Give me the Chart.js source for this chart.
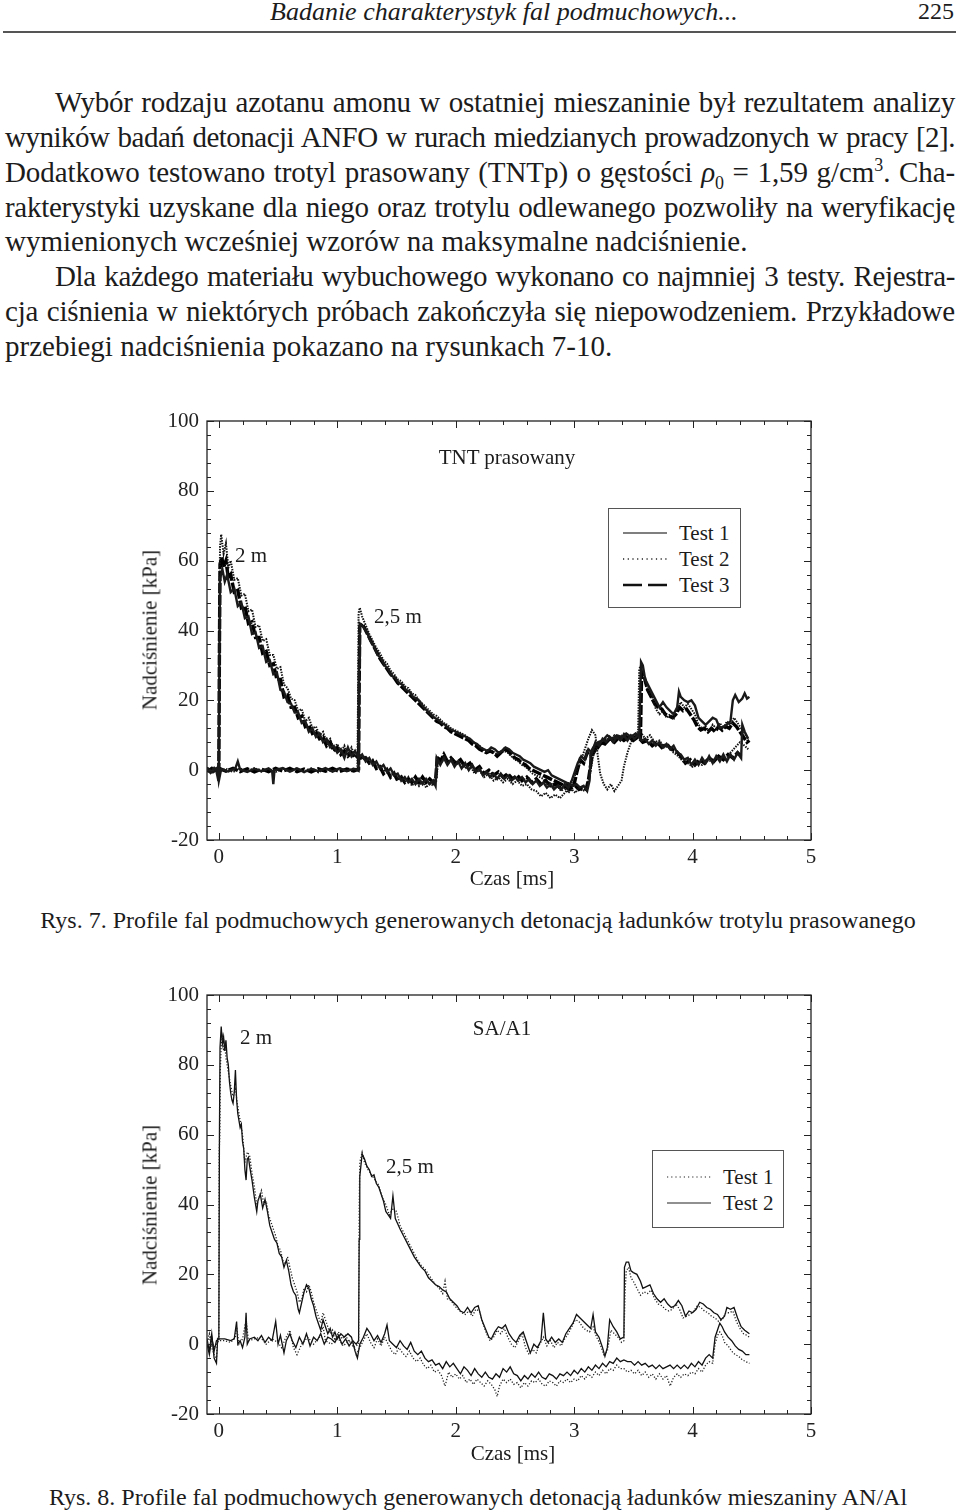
<!DOCTYPE html>
<html lang="pl">
<head>
<meta charset="utf-8">
<title>Badanie charakterystyk fal podmuchowych</title>
<script src="https://cdn.jsdelivr.net/npm/chart.js@4.4.1/dist/chart.umd.min.js"></script>
<style>
  html, body { margin:0; padding:0; background:#fff; }
  body { width:960px; height:1512px; position:relative; overflow:hidden;
         font-family:"Liberation Serif", "DejaVu Serif", serif; color:#1c1c1c; }
  .abs { position:absolute; white-space:nowrap; }
  .c { transform:translate(-50%,-50%); }
  .v { transform:translate(-50%,-50%) rotate(-90deg); }
  #head { left:270px; top:-3px; font-size:26px; font-style:italic; }
  #pageno { left:918px; top:-2px; font-size:24px; }
  #rule { position:absolute; left:3px; top:31px; width:953px; height:2px; background:#555; }
  #text { position:absolute; left:5px; top:85px; width:950px; font-size:29px; line-height:34.86px; }
  #text div { white-space:nowrap; }
  #text .ind { text-indent:50px; }
  sub, sup { font-size:0.62em; line-height:0; }
  canvas { position:absolute; left:0; }
  .lbl { font-size:21px; }
  .cap { font-size:24px; }
  .legend { position:absolute; border:1px solid #555; background:#fff; }
  .legend .row { position:absolute; left:14px; height:26px; display:flex; align-items:center; font-size:21px; }
  .legend svg { margin-right:12px; }
</style>
</head>
<body>

<div id="head" class="abs">Badanie charakterystyk fal podmuchowych...</div>
<div id="pageno" class="abs">225</div>
<div id="rule"></div>

<div id="text">
<div class="j ind"><span>Wybór rodzaju azotanu amonu w ostatniej mieszaninie był rezultatem analizy</span></div>
<div class="j"><span>wyników badań detonacji ANFO w rurach miedzianych prowadzonych w pracy [2].</span></div>
<div class="j"><span>Dodatkowo testowano trotyl prasowany (TNTp) o gęstości <i>ρ</i><sub>0</sub> = 1,59 g/cm<sup>3</sup>. Cha-</span></div>
<div class="j"><span>rakterystyki uzyskane dla niego oraz trotylu odlewanego pozwoliły na weryfikację</span></div>
<div><span>wymienionych wcześniej wzorów na maksymalne nadciśnienie.</span></div>
<div class="j ind"><span>Dla każdego materiału wybuchowego wykonano co najmniej 3 testy. Rejestra-</span></div>
<div class="j"><span>cja ciśnienia w niektórych próbach zakończyła się niepowodzeniem. Przykładowe</span></div>
<div><span>przebiegi nadciśnienia pokazano na rysunkach 7-10.</span></div>
</div>

<!-- Rys. 7 -->
<canvas id="chartTnt" width="960" height="500" style="top:400px"></canvas>
<div class="abs c lbl" style="left:507px; top:457px">TNT prasowany</div>
<div class="abs c lbl" style="left:251px; top:555px">2 m</div>
<div class="abs c lbl" style="left:398px; top:616px">2,5 m</div>
<div class="abs v lbl" style="left:150px; top:630px">Nadciśnienie [kPa]</div>
<div class="abs c lbl" style="left:512px; top:878px">Czas [ms]</div>
<div class="legend" style="left:608px; top:508px; width:131px; height:98px">
  <div class="row" style="top:11px"><svg width="44" height="6"><line x1="0" y1="3" x2="44" y2="3" stroke="#555" stroke-width="1.3"/></svg>Test 1</div>
  <div class="row" style="top:37px"><svg width="44" height="6"><line x1="0" y1="3" x2="44" y2="3" stroke="#222" stroke-width="1.3" stroke-dasharray="1.2 3.5"/></svg>Test 2</div>
  <div class="row" style="top:63px"><svg width="44" height="6"><line x1="0" y1="3" x2="44" y2="3" stroke="#111" stroke-width="2.5" stroke-dasharray="19 6"/></svg>Test 3</div>
</div>
<div class="abs c cap" style="left:478px; top:920px">Rys. 7. Profile fal podmuchowych generowanych detonacją ładunków trotylu prasowanego</div>

<!-- Rys. 8 -->
<canvas id="chartSa" width="960" height="500" style="top:974px"></canvas>
<div class="abs c lbl" style="left:502px; top:1028px">SA/A1</div>
<div class="abs c lbl" style="left:256px; top:1037px">2 m</div>
<div class="abs c lbl" style="left:410px; top:1166px">2,5 m</div>
<div class="abs v lbl" style="left:150px; top:1205px">Nadciśnienie [kPa]</div>
<div class="abs c lbl" style="left:513px; top:1453px">Czas [ms]</div>
<div class="legend" style="left:652px; top:1150px; width:130px; height:76px">
  <div class="row" style="top:13px"><svg width="44" height="6"><line x1="0" y1="3" x2="44" y2="3" stroke="#222" stroke-width="1.2" stroke-dasharray="1.2 3"/></svg>Test 1</div>
  <div class="row" style="top:39px"><svg width="44" height="6"><line x1="0" y1="3" x2="44" y2="3" stroke="#222" stroke-width="1.2"/></svg>Test 2</div>
</div>
<div class="abs c cap" style="left:478px; top:1497px">Rys. 8. Profile fal podmuchowych generowanych detonacją ładunków mieszaniny AN/Al</div>

<script>
const timeTicks = [0, 1, 2, 3, 4, 5];
const pressureTicks = [-20, 0, 20, 40, 60, 80, 100];

// Rys. 7 - TNT prasowany, [czas ms, nadcisnienie kPa]
const tnt2mTest1 = [[-0.1,0.3],[-0.07,-0.8],[-0.04,0.6],[-0.02,-0.4],[-0.005,-2.8],[0,0.2],[0.005,33],[0.01,55],[0.03,57.5],[0.05,54],[0.07,56],[0.1,51],[0.13,52],[0.16,47],[0.19,48],[0.22,43.5],[0.25,44],[0.28,39],[0.31,39.5],[0.34,35],[0.37,35.5],[0.4,31],[0.43,31.5],[0.46,27.5],[0.49,28],[0.52,23],[0.55,22.5],[0.58,19.5],[0.61,19],[0.64,16.5],[0.67,16.5],[0.7,13.5],[0.73,14],[0.76,11],[0.79,12],[0.82,9.5],[0.85,10.5],[0.88,8],[0.91,9],[0.94,6.5],[0.97,7],[1.0,5],[1.03,6],[1.06,3.5],[1.09,6.5],[1.12,4],[1.15,5.5],[1.18,3.5],[1.21,4.5],[1.24,2.5],[1.27,3.5],[1.3,1.5],[1.33,2.5],[1.36,0.5],[1.39,1.5],[1.42,-0.5],[1.45,0.5],[1.48,-1.5],[1.51,-1],[1.54,-3],[1.57,-2],[1.6,-3.5],[1.63,-2.5],[1.66,-4],[1.69,-2.5],[1.72,-4],[1.75,-2.5],[1.78,-4],[1.81,-3],[1.83,-4.5],[1.84,3.5],[1.87,1.5],[1.9,3.5],[1.93,1.5],[1.96,3],[1.99,1],[2.02,2.5],[2.05,0.5],[2.08,2],[2.11,0],[2.14,1.5],[2.17,-0.5],[2.2,0.5],[2.23,-1.5],[2.26,-0.5],[2.29,-2],[2.32,-1],[2.35,-2.5],[2.38,-1],[2.41,-2.5],[2.44,-1.5],[2.47,-3],[2.5,-2],[2.53,-3],[2.56,-2],[2.59,-3.5],[2.62,-2.5],[2.65,-4],[2.68,-3],[2.71,-4.5],[2.74,-3.5],[2.77,-5],[2.8,-4],[2.83,-5.5],[2.86,-4.5],[2.89,-5.5],[2.92,-4],[2.95,-5],[2.98,-3],[3.0,-1],[3.03,2],[3.06,4],[3.09,3],[3.12,6],[3.15,5],[3.18,8],[3.21,7],[3.24,9],[3.27,8],[3.3,9.5],[3.33,8],[3.36,9.5],[3.39,8.5],[3.42,10],[3.45,8.5],[3.48,10],[3.51,9],[3.54,10],[3.57,8.5],[3.6,9],[3.63,7.5],[3.66,8.5],[3.69,7],[3.72,8],[3.75,6.5],[3.78,7.5],[3.81,6],[3.84,7],[3.87,5],[3.9,4.5],[3.93,3],[3.96,3.5],[3.99,1.5],[4.02,3],[4.05,1.5],[4.08,3.5],[4.11,2],[4.14,4],[4.17,2],[4.2,4],[4.23,2.5],[4.26,4.5],[4.29,2.5],[4.32,4.5],[4.35,3],[4.38,5],[4.41,3.5],[4.42,13],[4.44,11],[4.47,9]];
const tnt2mTest2 = [[-0.1,0.8],[-0.06,-0.6],[-0.03,0.9],[-0.01,-0.5],[0,0.5],[0.004,40],[0.01,64],[0.02,67.5],[0.04,62],[0.06,65],[0.08,58],[0.1,60],[0.13,54.5],[0.16,55],[0.19,50],[0.22,50.5],[0.25,45.5],[0.28,46],[0.31,41],[0.34,41.5],[0.37,37],[0.4,37.5],[0.43,33],[0.46,33],[0.49,29],[0.52,29.5],[0.55,24.5],[0.58,23.5],[0.61,20.5],[0.64,20],[0.67,17],[0.7,17.5],[0.73,14],[0.76,15],[0.79,12],[0.82,12.5],[0.85,10],[0.88,11],[0.91,8],[0.94,9],[0.97,6],[1.0,7.5],[1.03,5],[1.06,7],[1.09,4.5],[1.12,6.5],[1.15,4],[1.18,5],[1.21,3],[1.24,4],[1.27,2],[1.3,3],[1.33,1],[1.36,1.5],[1.39,-0.5],[1.42,0.5],[1.45,-1.5],[1.48,-0.5],[1.51,-2.5],[1.54,-1.5],[1.57,-3.5],[1.6,-2],[1.63,-4.5],[1.66,-3],[1.69,-4.5],[1.72,-3],[1.75,-5],[1.78,-3.5],[1.81,-4.5],[1.84,-2],[1.85,3],[1.88,2],[1.91,4],[1.94,2],[1.97,3.5],[2.0,1.5],[2.04,2.5],[2.08,0.5],[2.12,1.5],[2.16,-1],[2.2,0],[2.24,-2],[2.28,-1],[2.32,-3],[2.36,-2],[2.4,-3.5],[2.44,-2.5],[2.48,-4],[2.52,-3],[2.56,-4.5],[2.6,-4],[2.64,-5.5],[2.68,-6],[2.72,-7.5],[2.76,-6.5],[2.8,-8],[2.84,-7],[2.88,-8],[2.92,-6.5],[2.96,-5],[3.0,-2],[3.04,1],[3.08,5],[3.12,9],[3.15,11.5],[3.18,10],[3.2,4],[3.22,-1],[3.25,-4],[3.28,-5.5],[3.31,-4],[3.34,-6],[3.37,-4.5],[3.4,-3],[3.42,1],[3.45,5],[3.48,8],[3.52,9.5],[3.56,11],[3.6,9],[3.64,10],[3.68,8],[3.72,8.5],[3.76,6.5],[3.8,7],[3.84,5],[3.88,4],[3.92,2.5],[3.96,2],[4.0,1],[4.04,2],[4.08,1.5],[4.12,3],[4.16,2.5],[4.2,3.5],[4.24,4],[4.28,3],[4.32,5],[4.36,6.5],[4.4,8],[4.44,7],[4.47,6]];
const tnt2mTest3 = [[-0.1,-0.4],[-0.06,0.5],[-0.03,-0.6],[0,0.2],[0.005,35],[0.01,59],[0.025,61],[0.04,58],[0.06,60],[0.08,55],[0.1,56],[0.13,51],[0.16,51.5],[0.19,46.5],[0.22,47],[0.25,42],[0.28,42.5],[0.31,38],[0.34,38],[0.37,33.5],[0.4,34],[0.43,30],[0.46,30.5],[0.49,26],[0.52,26],[0.55,21],[0.58,21.5],[0.61,18],[0.64,18],[0.67,15],[0.7,15.5],[0.73,12.5],[0.76,13],[0.79,10.5],[0.82,11],[0.85,9],[0.88,9.5],[0.91,7],[0.94,8],[0.97,5.5],[1.0,6.5],[1.03,4.5],[1.06,5.5],[1.09,4],[1.12,5],[1.15,3.5],[1.18,4.5],[1.21,3],[1.24,3.5],[1.27,2],[1.3,2.5],[1.33,0.5],[1.36,1],[1.39,-1],[1.42,0],[1.45,-2],[1.48,-1],[1.51,-3],[1.54,-2],[1.57,-3.5],[1.6,-2.5],[1.63,-3.5],[1.66,-2],[1.69,-3.5],[1.72,-2],[1.75,-3.5],[1.78,-2.5],[1.81,-3.5],[1.83,-3],[1.845,4],[1.87,2.5],[1.9,4.5],[1.93,2.5],[1.96,3.5],[2.0,2],[2.04,3],[2.08,1],[2.12,2],[2.16,0],[2.2,1],[2.24,-1],[2.28,0],[2.32,-1.5],[2.36,-0.5],[2.4,-2],[2.44,-1],[2.48,-2.5],[2.52,-1.5],[2.56,-3],[2.6,-2],[2.64,-3.5],[2.68,-2.5],[2.72,-4],[2.76,-3],[2.8,-4.5],[2.84,-4],[2.88,-5],[2.92,-4.5],[2.96,-5.5],[3.0,-4],[3.02,-1],[3.05,3],[3.08,2],[3.11,5],[3.14,4],[3.17,7],[3.2,6.5],[3.23,8],[3.26,7.5],[3.3,9],[3.34,8],[3.38,9.5],[3.42,8.5],[3.46,9.5],[3.5,8.5],[3.54,9.5],[3.58,8],[3.62,8.5],[3.66,7],[3.7,8],[3.74,6.5],[3.78,7.5],[3.82,6],[3.86,5.5],[3.9,4],[3.94,2],[3.98,3],[4.02,1.5],[4.06,3],[4.1,2],[4.14,3.5],[4.18,2.5],[4.22,4],[4.26,3],[4.3,4.5],[4.34,3.5],[4.38,5],[4.41,4]];
const tnt25Test1 = [[-0.1,0.5],[-0.05,-0.5],[-0.01,0.8],[0,-3],[0.02,0.3],[0.08,-0.4],[0.14,0.6],[0.16,2.5],[0.18,0.2],[0.24,-0.5],[0.3,0.4],[0.36,-0.3],[0.42,0.5],[0.45,-0.2],[0.46,-4],[0.47,0],[0.54,0.6],[0.6,-0.4],[0.66,0.5],[0.72,-0.6],[0.78,0.4],[0.84,-0.3],[0.9,0.6],[0.96,-0.4],[1.02,0.5],[1.08,-0.3],[1.14,0.4],[1.18,-0.2],[1.185,30],[1.19,42],[1.22,41],[1.25,39.5],[1.28,37],[1.31,35.5],[1.34,33],[1.37,32],[1.4,30],[1.43,29],[1.46,27],[1.49,26.5],[1.52,25],[1.55,24.5],[1.58,23],[1.61,22.5],[1.64,21],[1.67,20.5],[1.7,19.5],[1.73,18],[1.76,17],[1.79,16],[1.82,15],[1.85,14.5],[1.88,13.5],[1.91,13],[1.94,12],[1.97,11.5],[2.0,11],[2.03,10.5],[2.06,10],[2.09,9.5],[2.12,9],[2.15,8],[2.18,7.5],[2.21,6.5],[2.24,6],[2.27,5.5],[2.3,6.5],[2.33,6],[2.36,5],[2.39,5.5],[2.42,6.5],[2.45,6],[2.48,5],[2.51,4.5],[2.54,4],[2.57,3],[2.6,2.5],[2.63,2],[2.66,1],[2.69,0.5],[2.72,0],[2.75,-0.5],[2.78,0],[2.81,-1.5],[2.84,-2],[2.87,-2.5],[2.9,-3],[2.93,-3.5],[2.96,-4],[2.99,-4.5],[3.02,-4],[3.05,-5],[3.08,-4.5],[3.11,-6],[3.13,-3],[3.14,5],[3.17,7],[3.2,8],[3.24,8.5],[3.28,10],[3.32,9],[3.36,10],[3.4,9.5],[3.44,10.5],[3.48,9.5],[3.52,10.5],[3.55,10],[3.565,31],[3.58,30],[3.6,26],[3.63,24],[3.66,22],[3.69,20],[3.72,18],[3.75,19.5],[3.78,18],[3.81,17],[3.84,16],[3.87,18],[3.885,22.5],[3.9,21],[3.93,20],[3.96,19.5],[3.99,20],[4.02,18.5],[4.05,15],[4.08,14],[4.11,13],[4.14,14],[4.17,15],[4.2,14.5],[4.23,12],[4.26,12.5],[4.29,13],[4.32,14],[4.34,20],[4.36,21.5],[4.39,19.5],[4.42,20.5],[4.44,22],[4.46,20.5],[4.48,21]];
const tnt25Test2 = [[-0.1,-0.3],[-0.05,0.6],[0,-0.5],[0.06,0.4],[0.12,-0.5],[0.18,0.5],[0.24,-0.3],[0.3,0.6],[0.36,-0.4],[0.42,0.3],[0.48,-0.5],[0.54,0.5],[0.6,-0.2],[0.66,0.6],[0.72,-0.4],[0.78,0.5],[0.84,-0.6],[0.9,0.4],[0.96,-0.3],[1.02,0.6],[1.08,-0.2],[1.14,0.5],[1.17,0.2],[1.175,20],[1.18,45],[1.19,46.5],[1.21,44],[1.24,41.5],[1.27,39],[1.3,37],[1.33,35],[1.36,33.5],[1.39,31.5],[1.42,30.5],[1.45,28.5],[1.48,27.5],[1.51,26],[1.54,25.5],[1.57,24],[1.6,23.5],[1.63,22],[1.66,21.5],[1.69,20],[1.72,19],[1.75,18],[1.78,17],[1.81,16],[1.84,15.5],[1.87,14.5],[1.9,13.5],[1.93,13],[1.96,12],[1.99,11.5],[2.02,11],[2.05,10.5],[2.08,10],[2.11,9],[2.14,8.5],[2.17,7.5],[2.2,7],[2.23,6],[2.26,5],[2.29,6],[2.32,5],[2.35,4.5],[2.38,5],[2.41,5.5],[2.44,5],[2.47,4],[2.5,3],[2.53,2.5],[2.56,1.5],[2.59,1],[2.62,0],[2.65,-1],[2.68,-1.5],[2.71,-2],[2.74,-2.5],[2.77,-4],[2.8,-3.5],[2.83,-5],[2.86,-4.5],[2.89,-6],[2.92,-5],[2.95,-6.5],[2.98,-5.5],[3.01,-6.5],[3.04,-5],[3.07,-6],[3.1,-5.5],[3.13,-2],[3.16,4],[3.19,7],[3.22,8],[3.26,9],[3.3,8.5],[3.34,10],[3.38,9],[3.42,10.5],[3.46,9.5],[3.5,10],[3.54,11],[3.55,29],[3.57,30.5],[3.6,25],[3.63,22.5],[3.66,21],[3.69,17.5],[3.72,16],[3.75,17],[3.78,15],[3.81,16],[3.84,14.5],[3.87,17],[3.9,19.5],[3.93,18],[3.96,19],[3.99,17.5],[4.02,16],[4.05,13],[4.08,12],[4.11,12.5],[4.14,11],[4.17,13],[4.2,12],[4.23,13.5],[4.26,12],[4.29,14],[4.32,13],[4.35,15],[4.38,13.5],[4.41,12],[4.44,10.5],[4.47,9]];
const tnt25Test3 = [[-0.1,0.4],[-0.05,-0.4],[0,0.6],[0.06,-0.3],[0.12,0.5],[0.18,-0.4],[0.24,0.4],[0.3,-0.5],[0.36,0.3],[0.42,-0.4],[0.48,0.5],[0.54,-0.3],[0.6,0.5],[0.66,-0.4],[0.72,0.3],[0.78,-0.5],[0.84,0.4],[0.9,-0.3],[0.96,0.5],[1.02,-0.4],[1.08,0.3],[1.14,-0.2],[1.18,0.3],[1.185,25],[1.19,41],[1.21,42],[1.24,40],[1.27,38],[1.3,36],[1.33,34],[1.36,32],[1.39,30.5],[1.42,29],[1.45,27.5],[1.48,26.5],[1.51,25],[1.54,24],[1.57,23],[1.6,22],[1.63,21],[1.66,20],[1.69,19],[1.72,18],[1.75,17],[1.78,16],[1.81,15],[1.84,14],[1.87,13.5],[1.9,12.5],[1.93,12],[1.96,11],[1.99,10.5],[2.02,10],[2.05,9.5],[2.08,9],[2.11,8.5],[2.14,7.5],[2.17,7],[2.2,6],[2.23,5.5],[2.26,5],[2.29,5.5],[2.32,5],[2.35,4],[2.38,5],[2.41,6],[2.44,5.5],[2.47,4.5],[2.5,3.5],[2.53,3],[2.56,2],[2.59,1.5],[2.62,0.5],[2.65,0],[2.68,-0.5],[2.71,-1],[2.74,-1.5],[2.77,-2],[2.8,-2.5],[2.83,-3],[2.86,-3.5],[2.89,-4],[2.92,-4.5],[2.95,-4],[2.98,-5],[3.01,-4.5],[3.04,-5.5],[3.07,-5],[3.1,-5.5],[3.12,-3],[3.15,4],[3.18,6],[3.22,7.5],[3.26,8],[3.3,9],[3.34,8.5],[3.38,9.5],[3.42,9],[3.46,10],[3.5,9],[3.54,10],[3.56,9.5],[3.57,28],[3.59,27],[3.62,23],[3.65,21],[3.68,19],[3.71,18],[3.74,17.5],[3.77,16],[3.8,15.5],[3.83,15],[3.86,16],[3.89,18],[3.92,17],[3.95,17.5],[3.98,16],[4.01,14.5],[4.04,12.5],[4.07,11.5],[4.1,12],[4.13,11],[4.16,12],[4.19,11],[4.22,12.5],[4.25,11.5],[4.28,12.5],[4.31,12],[4.34,13.5],[4.37,12.5],[4.4,11],[4.43,9.5],[4.46,8],[4.48,8.5]];

// Rys. 8 - SA/A1
const sa2mTest1 = [[-0.1,0.5],[-0.08,3],[-0.06,-1],[-0.04,-3],[-0.02,-4],[-0.01,2],[0,1],[0.003,55],[0.008,60],[0.012,78],[0.02,86],[0.03,88],[0.04,84],[0.05,86],[0.06,82],[0.08,78],[0.1,74],[0.12,71],[0.14,73],[0.16,68],[0.18,64],[0.2,60],[0.22,52],[0.24,55],[0.26,54],[0.28,49],[0.3,45],[0.32,40],[0.34,42],[0.36,44],[0.38,40],[0.4,41],[0.42,37],[0.44,35],[0.46,33],[0.48,31],[0.5,28],[0.52,27],[0.54,24],[0.56,23],[0.58,25],[0.6,22],[0.62,19],[0.64,17],[0.66,15],[0.68,12],[0.7,13],[0.72,16],[0.74,15],[0.76,17],[0.78,15],[0.8,12],[0.82,10],[0.84,8],[0.86,6],[0.88,9],[0.9,7],[0.92,5],[0.94,3],[0.96,4],[0.98,1],[1.01,3.5],[1.04,1.5],[1.07,2.5],[1.1,0.5],[1.13,1],[1.16,-3],[1.19,-1],[1.22,1],[1.25,3],[1.28,0.5],[1.31,-1],[1.34,1.5],[1.37,-0.5],[1.4,2],[1.43,0],[1.46,-2],[1.49,-3],[1.52,-1],[1.55,-2.5],[1.58,-3.5],[1.61,-2],[1.64,-4],[1.67,-5],[1.7,-4],[1.73,-6],[1.76,-7],[1.79,-6],[1.82,-8],[1.85,-7.5],[1.88,-9],[1.91,-12],[1.94,-8],[1.97,-9.5],[2.0,-8.5],[2.03,-10],[2.06,-9],[2.09,-11],[2.12,-10],[2.15,-11.5],[2.18,-10],[2.21,-11],[2.24,-12],[2.27,-10.5],[2.3,-11.5],[2.33,-13],[2.35,-15],[2.37,-12],[2.4,-10],[2.43,-11],[2.46,-10],[2.49,-11.5],[2.52,-11],[2.55,-12.5],[2.58,-11],[2.61,-12],[2.64,-10.5],[2.67,-11],[2.7,-10],[2.73,-11.5],[2.76,-12],[2.79,-10.5],[2.82,-11],[2.85,-12],[2.88,-10.5],[2.91,-11],[2.94,-10],[2.97,-11],[3.0,-10],[3.03,-10.5],[3.06,-9],[3.09,-10],[3.12,-8.5],[3.15,-9.5],[3.18,-8],[3.21,-9],[3.24,-7.5],[3.27,-8.5],[3.3,-7],[3.33,-7.5],[3.36,-6],[3.39,-7],[3.42,-7],[3.45,-8],[3.48,-7.5],[3.51,-8.5],[3.54,-7.5],[3.57,-9],[3.6,-8],[3.63,-9.5],[3.66,-8.5],[3.69,-10],[3.72,-8.5],[3.75,-10],[3.78,-9],[3.81,-12],[3.84,-9.5],[3.87,-8.5],[3.9,-9.5],[3.93,-8.5],[3.96,-9],[3.99,-8],[4.02,-8.5],[4.05,-7],[4.08,-8],[4.11,-6],[4.14,-5],[4.17,-5.5],[4.19,0],[4.21,2.5],[4.23,3.5],[4.25,2.5],[4.27,0.5],[4.3,-0.5],[4.33,-2],[4.36,-3],[4.39,-3.5],[4.42,-4.5],[4.45,-5],[4.48,-5.5]];
const sa2mTest2 = [[-0.1,1.5],[-0.08,-2],[-0.06,3],[-0.04,-4],[-0.02,-5.5],[-0.01,1.5],[0,1.5],[0.005,60],[0.01,85],[0.02,91],[0.03,86],[0.04,88],[0.05,84],[0.06,87],[0.07,82],[0.08,80],[0.09,75],[0.1,72],[0.11,70],[0.12,69],[0.13,72],[0.14,78.5],[0.15,70],[0.16,66],[0.17,64],[0.18,62],[0.19,63],[0.2,58],[0.21,56],[0.22,50],[0.23,47],[0.24,53],[0.25,53.5],[0.26,51],[0.28,47],[0.3,42],[0.32,38],[0.33,41],[0.35,43],[0.37,39],[0.39,41.5],[0.41,38],[0.43,34],[0.45,32],[0.47,30],[0.49,29],[0.51,26],[0.53,25],[0.55,22],[0.57,24],[0.59,21],[0.61,17],[0.63,15],[0.65,14],[0.67,10],[0.68,9],[0.7,12],[0.72,15],[0.74,17],[0.76,16],[0.78,13],[0.8,11],[0.82,8],[0.84,6],[0.86,4],[0.88,7],[0.9,5],[0.92,3],[0.94,4.5],[0.96,2],[0.98,3.5],[1.0,1.5],[1.03,3],[1.06,2],[1.09,3],[1.12,2],[1.15,-2],[1.17,-4],[1.19,0],[1.22,2],[1.25,4.5],[1.28,3],[1.31,1],[1.34,2.5],[1.37,0.5],[1.4,3],[1.42,5.5],[1.44,1],[1.47,0],[1.5,-1],[1.53,1],[1.56,-0.5],[1.59,-1.5],[1.62,0.5],[1.65,-2],[1.68,-3],[1.71,-2],[1.74,-4],[1.77,-5],[1.8,-4.5],[1.83,-6],[1.86,-5.5],[1.89,-7],[1.92,-5],[1.95,-6.5],[1.98,-5.5],[2.01,-7],[2.04,-8.5],[2.07,-6.5],[2.1,-7.5],[2.13,-9],[2.16,-7],[2.19,-8.5],[2.22,-9.5],[2.25,-8],[2.28,-9.5],[2.31,-10],[2.34,-8.5],[2.37,-9.5],[2.4,-7],[2.43,-8],[2.46,-6.5],[2.49,-8.5],[2.52,-9],[2.55,-10.5],[2.58,-9],[2.61,-10],[2.64,-8.5],[2.67,-9.5],[2.7,-8],[2.73,-9.5],[2.76,-10],[2.79,-8.5],[2.82,-9],[2.85,-10],[2.88,-8.5],[2.91,-9],[2.94,-8],[2.97,-9],[3.0,-7.5],[3.03,-8.5],[3.06,-7],[3.09,-8],[3.12,-6.5],[3.15,-7.5],[3.18,-6],[3.21,-7],[3.24,-5.5],[3.27,-6.5],[3.3,-5],[3.33,-5.5],[3.36,-4],[3.39,-5],[3.42,-4.5],[3.45,-5],[3.48,-5],[3.51,-6],[3.54,-5],[3.57,-6],[3.6,-5.5],[3.63,-6.5],[3.66,-6],[3.69,-7],[3.72,-6],[3.75,-7],[3.78,-6.5],[3.81,-6],[3.84,-7],[3.87,-6],[3.9,-7],[3.93,-6],[3.96,-7],[3.99,-5.5],[4.02,-6.5],[4.05,-5],[4.08,-6],[4.11,-4],[4.14,-3],[4.17,-4],[4.19,2],[4.21,4],[4.23,6],[4.25,5],[4.27,3.5],[4.3,2],[4.33,1],[4.36,-0.5],[4.39,-1.5],[4.42,-2],[4.45,-3],[4.48,-3]];
const sa25Test1 = [[-0.1,0.5],[-0.07,2],[-0.04,-1],[-0.02,0],[0,1],[0.05,1],[0.1,0.5],[0.14,2],[0.15,5],[0.17,0],[0.2,1.5],[0.23,7],[0.25,1],[0.3,1.5],[0.35,2],[0.4,0],[0.45,1.5],[0.5,0.5],[0.53,-1],[0.56,1.5],[0.6,4],[0.63,-1],[0.66,-3],[0.7,0],[0.75,2],[0.8,0],[0.85,2],[0.88,5],[0.9,1],[0.95,0],[1.0,2],[1.05,-0.5],[1.1,1],[1.14,-1],[1.18,0],[1.182,20],[1.185,40],[1.19,52],[1.21,55],[1.23,52],[1.26,50],[1.29,48.5],[1.32,47],[1.35,45.5],[1.38,42],[1.41,40],[1.44,37],[1.47,39],[1.5,38],[1.53,34],[1.56,32],[1.59,30],[1.62,28],[1.65,26],[1.68,24],[1.71,22.5],[1.74,21.5],[1.77,20],[1.8,18.5],[1.83,17],[1.86,16],[1.89,14.5],[1.91,18],[1.93,13],[1.96,12.5],[1.99,11],[2.02,10],[2.05,9],[2.08,8.5],[2.11,9.5],[2.14,8],[2.17,10],[2.2,9.5],[2.23,6],[2.26,3],[2.29,1],[2.32,2],[2.35,4],[2.38,3],[2.41,4.5],[2.44,2],[2.47,0],[2.5,-1],[2.53,1],[2.56,3],[2.59,-1],[2.62,-3],[2.65,-1.5],[2.68,-2.5],[2.71,0],[2.74,2],[2.77,-0.5],[2.8,1],[2.83,-1],[2.86,0.5],[2.89,-0.5],[2.92,1.5],[2.95,3],[2.98,5],[3.01,7],[3.04,6.5],[3.07,5],[3.1,4],[3.13,3.5],[3.16,5],[3.19,2],[3.22,0],[3.25,-3],[3.28,-2],[3.31,4],[3.34,3],[3.37,2],[3.4,0.5],[3.42,1],[3.43,15],[3.44,21],[3.46,22],[3.48,19],[3.5,18],[3.53,16],[3.56,14],[3.59,15],[3.62,14.5],[3.65,15.5],[3.68,13],[3.71,11.5],[3.74,11],[3.77,10],[3.8,9.5],[3.83,10],[3.86,11.5],[3.89,10],[3.92,7.5],[3.95,8],[3.98,8.5],[4.01,9.5],[4.04,11],[4.07,10.5],[4.1,9.5],[4.13,9],[4.16,8],[4.19,7.5],[4.22,6.5],[4.25,7],[4.28,9],[4.31,9],[4.34,9.5],[4.37,6.5],[4.4,4.5],[4.43,3],[4.46,2.5],[4.48,2]];
const sa25Test2 = [[-0.1,0],[-0.08,-3],[-0.06,2],[-0.04,-2],[-0.02,1],[0,1.5],[0.05,1.5],[0.1,1],[0.13,1.5],[0.15,6.5],[0.16,0],[0.18,1],[0.2,-1],[0.22,2],[0.23,9],[0.24,0],[0.26,1.5],[0.3,2],[0.33,1],[0.36,2.5],[0.39,0.5],[0.42,2],[0.45,1],[0.48,6.5],[0.5,0],[0.52,2.5],[0.55,-2.5],[0.57,1],[0.6,3],[0.62,1],[0.65,-1],[0.68,2],[0.71,0],[0.74,3],[0.77,-0.5],[0.8,2],[0.83,1],[0.86,3],[0.89,0],[0.92,2],[0.95,1.5],[0.98,0.5],[1.01,2.5],[1.04,0],[1.07,1.5],[1.1,-0.5],[1.13,1],[1.16,0],[1.18,1],[1.185,30],[1.19,48],[1.21,54.5],[1.23,53],[1.25,51],[1.27,50],[1.29,48],[1.31,48.5],[1.33,46],[1.35,45],[1.37,43],[1.39,41],[1.41,38],[1.43,37],[1.45,36],[1.47,42.5],[1.49,36],[1.51,34.5],[1.53,33],[1.56,31],[1.59,29],[1.62,27],[1.65,25],[1.68,23.5],[1.71,22],[1.74,21],[1.77,19],[1.8,18],[1.83,17],[1.86,16.5],[1.89,15.5],[1.92,15],[1.95,13],[1.98,12],[2.01,11],[2.04,9.5],[2.07,9],[2.1,10.5],[2.13,9],[2.16,10.5],[2.19,11],[2.22,7],[2.25,4.5],[2.28,2],[2.3,1.5],[2.33,3.5],[2.36,5],[2.39,4.5],[2.42,5.5],[2.45,3],[2.48,1.5],[2.51,0.5],[2.54,2.5],[2.57,3.5],[2.6,0.5],[2.63,-2.5],[2.66,0],[2.69,-1],[2.72,1],[2.74,9],[2.76,1.5],[2.78,0.5],[2.81,2],[2.84,0.5],[2.87,1.5],[2.9,0.5],[2.93,3],[2.96,4.5],[2.99,6],[3.02,8.5],[3.05,7.5],[3.08,6.5],[3.11,5.5],[3.14,4.5],[3.16,8.5],[3.18,3.5],[3.21,2],[3.24,-1],[3.26,-3.5],[3.28,-1],[3.3,7],[3.33,5],[3.36,3.5],[3.39,1.5],[3.42,2],[3.425,22],[3.44,23.5],[3.46,23.5],[3.48,21],[3.5,20.5],[3.53,20],[3.56,18],[3.58,16],[3.61,16.5],[3.64,17],[3.67,14.5],[3.7,13],[3.73,12],[3.76,13],[3.79,11.5],[3.82,10.5],[3.85,11],[3.88,12.5],[3.91,11],[3.94,8],[3.97,9.5],[4.0,9],[4.03,10],[4.06,12],[4.09,11.5],[4.12,10.5],[4.15,10],[4.18,9],[4.21,8.5],[4.24,7],[4.27,8],[4.29,10.5],[4.32,10],[4.35,10.5],[4.38,7.5],[4.41,5],[4.44,4],[4.46,3.5],[4.48,3]];

const serif = '"Liberation Serif", "DejaVu Serif", serif';

// wyjustowanie wierszy tekstu do pelnej szerokosci kolumny
document.querySelectorAll('#text .j').forEach(div => {
  const span = div.firstElementChild;
  const target = 950 - (div.classList.contains('ind') ? 50 : 0);
  const gaps = (span.textContent.match(/ /g) || []).length;
  let w = span.getBoundingClientRect().width;
  const minRoom = gaps * 1.5;
  if (w > target - minRoom) {
    span.style.letterSpacing = ((target - minRoom - w) / span.textContent.length) + 'px';
    w = span.getBoundingClientRect().width;
  }
  span.style.wordSpacing = ((target - w) / gaps) + 'px';
});

// ramka i krotkie kreski podzialki do srodka na wszystkich bokach
const frameTicks = {
  id: 'frameTicks',
  afterDatasetsDraw(chart) {
    const {ctx, chartArea: a, scales: {x, y}} = chart;
    ctx.save();
    ctx.strokeStyle = '#222';
    ctx.lineWidth = 1.3;
    ctx.strokeRect(a.left, a.top, a.right - a.left, a.bottom - a.top);
    ctx.lineWidth = 1;
    ctx.beginPath();
    for (let i = 0; i <= 25; i++) {
      const px = Math.round(x.getPixelForValue(i * 0.2)) + 0.5;
      const len = i % 5 === 0 ? 7 : 4;
      ctx.moveTo(px, a.bottom); ctx.lineTo(px, a.bottom - len);
      ctx.moveTo(px, a.top); ctx.lineTo(px, a.top + len);
    }
    for (let i = 0; i <= 30; i++) {
      const py = Math.round(y.getPixelForValue(-20 + i * 4)) + 0.5;
      const len = i % 5 === 0 ? 7 : 4;
      ctx.moveTo(a.left, py); ctx.lineTo(a.left + len, py);
      ctx.moveTo(a.right, py); ctx.lineTo(a.right - len, py);
    }
    ctx.stroke();
    ctx.restore();
  }
};

function line(data, width, dash, color) {
  return { data, borderColor: color || '#111', borderWidth: width, borderDash: dash || [],
           pointRadius: 0, tension: 0, fill: false };
}

function makeChart(id, datasets) {
  return new Chart(document.getElementById(id), {
    type: 'line',
    data: { datasets },
    options: {
      responsive: false, animation: false, events: [],
      layout: { padding: { left: 147, right: 149, top: 21, bottom: 20 } },
      plugins: { legend: { display: false }, tooltip: { enabled: false } },
      scales: {
        x: {
          type: 'linear', min: -0.1, max: 5,
          grid: { display: false, drawTicks: false }, border: { display: false },
          afterBuildTicks: s => { s.ticks = timeTicks.map(v => ({ value: v })); },
          afterFit: s => { s.height = 40; },
          ticks: { padding: 5, maxRotation: 0, color: '#222', font: { family: serif, size: 21 }, callback: v => String(v) }
        },
        y: {
          min: -20, max: 100,
          grid: { display: false, drawTicks: false }, border: { display: false },
          afterBuildTicks: s => { s.ticks = pressureTicks.map(v => ({ value: v })); },
          afterFit: s => { s.width = 60; },
          ticks: { padding: 8, color: '#222', font: { family: serif, size: 21 }, callback: v => String(v) }
        }
      }
    },
    plugins: [frameTicks]
  });
}

makeChart('chartTnt', [
  line(tnt2mTest1, 2.4, [], '#1a1a1a'),
  line(tnt25Test1, 2.4, [], '#1a1a1a'),
  line(tnt2mTest2, 2, [1.5, 1.2]),
  line(tnt25Test2, 2, [1.5, 1.2]),
  line(tnt2mTest3, 3.4, [10, 2], '#000'),
  line(tnt25Test3, 3.4, [10, 2], '#000')
]);

makeChart('chartSa', [
  line(sa2mTest1, 1.3, [1.2, 1.8], '#222'),
  line(sa25Test1, 1.3, [1.2, 1.8], '#222'),
  line(sa2mTest2, 1.3, [], '#111'),
  line(sa25Test2, 1.3, [], '#111')
]);
</script>
</body>
</html>
